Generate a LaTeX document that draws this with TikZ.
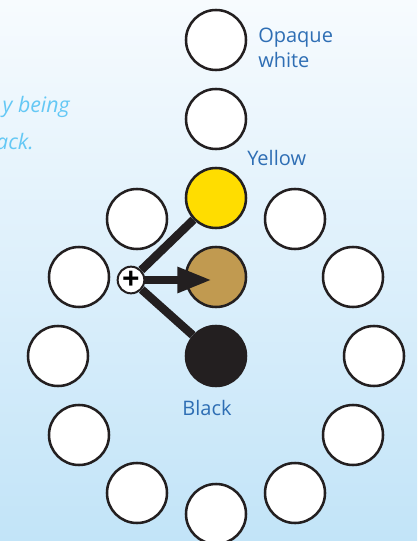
\documentclass[tikz,border=0pt]{standalone}
\usepackage{fontspec}
\setmainfont{Open Sans}
\usetikzlibrary{arrows.meta, positioning}

\definecolor{bgtop}{RGB}{247,251,254}
\definecolor{bgbottom}{RGB}{194,228,248}
\definecolor{ink}{RGB}{35,31,32}
\definecolor{lblblue}{RGB}{46,110,180}
\definecolor{noteblue}{RGB}{100,200,245}
\definecolor{paintyellow}{RGB}{255,221,0}
\definecolor{paintbrown}{RGB}{193,154,80}

\begin{document}
\begin{tikzpicture}[x=0.75pt, y=-0.75pt,
            disc/.style={circle, draw=ink, line width=1.9pt, fill=white,
                         minimum size=45pt, inner sep=0pt},
            mixer/.style={circle, draw=ink, line width=1.5pt, fill=white,
                          minimum size=20pt, inner sep=0pt,
                          font=\bfseries\fontsize{23}{23}\selectfont},
            link/.style={draw=ink, line width=6.3pt},
            arr/.style={link, -{Triangle[length=26pt, width=18pt]}},
            lbl/.style={text=lblblue, font=\fontsize{15}{18.75}\selectfont, inner sep=0pt},
            note/.style={text=noteblue, font=\itshape\fontsize{16}{18.75}\selectfont, inner sep=0pt}]

    \useasboundingbox (0,0) rectangle (417,541);
    \clip (0,0) rectangle (417,541);
    \fill[top color=bgtop, bottom color=bgbottom] (0,0) rectangle (417,541);

    % cut-off caption on the left
    \node[note, anchor=base east] (note1) at (70,113) {y being};
    \node[note, anchor=base east] (note2) at (34,150) {ack.};

    % middle column
    \node[disc] (white1) at (216,40)  {};
    \node[disc] (white2) at (216,119) {};
    \node[disc, fill=paintyellow] (yellow) at (216,198) {};
    \node[disc, fill=paintbrown]  (brown)  at (216,277) {};
    \node[disc, fill=ink]         (black)  at (216,356) {};

    % ring of white discs around the black one
    \node[disc] (w0)   at (374,356) {};
    \node[disc] (w30)  at (353,277) {};
    \node[disc] (w60)  at (295,219) {};
    \node[disc] (w120) at (137,219) {};
    \node[disc] (w150) at (79,277)  {};
    \node[disc] (w180) at (58,356)  {};
    \node[disc] (w210) at (79,435)  {};
    \node[disc] (w240) at (137,493) {};
    \node[disc] (w270) at (216,514) {};
    \node[disc] (w300) at (295,493) {};
    \node[disc] (w330) at (353,435) {};

    % yellow + black gives the brown
    \node[mixer] (mix) at (131,280) {+};
    \coordinate (tip) at (212,280);
    \draw[link] (mix) -- (yellow);
    \draw[link] (mix) -- (black);
    \draw[arr]  (mix) -- (tip);

    % labels
    \node[lbl, anchor=base west, align=left] (opaque) at (258,68) {Opaque\\white};
    \node[lbl, anchor=base west] (ylbl) at (247,166) {Yellow};
    \node[lbl, anchor=base] (klbl) at (207,415) {Black};
\end{tikzpicture}
\end{document}
